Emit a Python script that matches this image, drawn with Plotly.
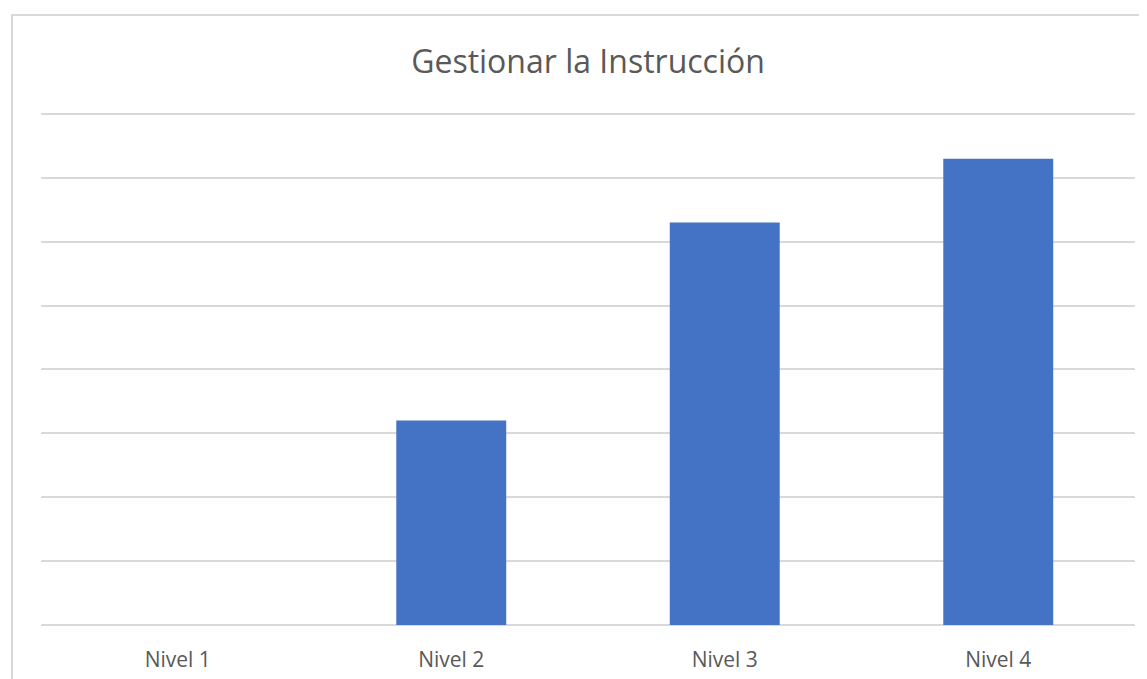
import plotly.graph_objects as go

categories = ["Nivel 1", "Nivel 2", "Nivel 3", "Nivel 4"]
values = [0, 3.2, 6.3, 7.3]
title_text = "Gestionar la Instrucción"

OFF = 8  # page body offset
W, H = 1147 - OFF, 679 - OFF
ymax = 8.03
unit = (625 - 114) / 8.0
top_px = 625 - ymax * unit
ml, mr = 41 - OFF, 12
mt, mb = top_px - OFF, 679 - 625
pw, ph = W - ml - mr, H - mt - mb

fig = go.Figure(go.Bar(x=categories, y=values, marker_color="#4472C4", marker_line_width=0))

def px_x(p):
    return (p - OFF - ml) / pw

def px_y(p):
    return (H - mb - (p - OFF)) / ph

fig.update_layout(
    width=W, height=H,
    margin=dict(l=ml, r=mr, t=mt, b=mb, autoexpand=False),
    paper_bgcolor="white", plot_bgcolor="white",
    bargap=0.598,
    showlegend=False,
    title=dict(text=title_text, xref="paper", x=px_x(588), xanchor="center",
               y=1 - (62 - OFF) / H, yanchor="middle",
               font=dict(family="Open Sans, Noto Sans, sans-serif", size=32, color="#595959")),
    xaxis=dict(showgrid=False, showline=False, ticks="", zeroline=False, ticklabelstandoff=20,
               tickfont=dict(family="Open Sans, Noto Sans, sans-serif", size=21, color="#595959")),
    yaxis=dict(range=[0, ymax], dtick=1, showticklabels=False, showgrid=True,
               gridcolor="#d9d9d9", gridwidth=2, zeroline=True, zerolinecolor="#d9d9d9",
               zerolinewidth=2, showline=False, ticks=""),
    shapes=[dict(type="rect", xref="paper", yref="paper",
                 x0=px_x(12), x1=px_x(1170), y0=px_y(700), y1=px_y(15),
                 line=dict(color="#d9d9d9", width=2), fillcolor="rgba(0,0,0,0)", layer="below")],
)

fig.write_html("out.html")
